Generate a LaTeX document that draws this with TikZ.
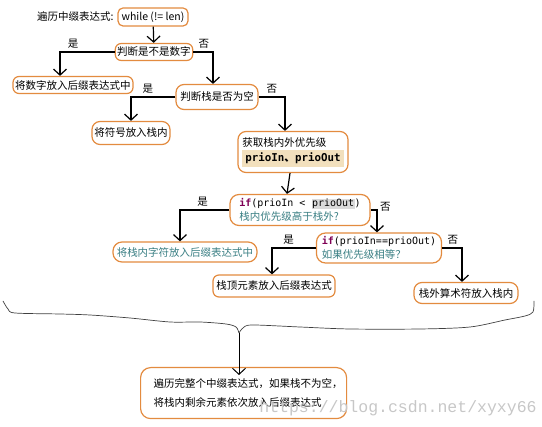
\documentclass[tikz,border=0pt]{standalone}
\usepackage{fontspec}
\setmainfont{Noto Sans CJK SC}
\setmonofont{DejaVu Sans Mono}
\newfontfamily\cjk{Noto Sans CJK SC}
\newfontfamily\wmfont{Liberation Mono}
\usepackage{xcolor}
\usetikzlibrary{arrows.meta,calc,positioning}
\definecolor{boxorange}{HTML}{E38B3F}
\definecolor{kwpurple}{HTML}{7F0055}
\definecolor{cmtteal}{HTML}{3A7F84}
\definecolor{hltan}{HTML}{F2E0BD}
\definecolor{hlgray}{HTML}{DADADA}
\newcommand{\kw}[1]{{\bfseries\color{kwpurple}#1}}
\newcommand{\codefont}{\fontsize{10}{15}\selectfont\ttfamily}

\begin{document}
\begin{tikzpicture}[x=1pt,y=-1pt,>={Straight Barb[length=6pt,width=13pt]},
  every node/.style={font=\fontsize{10.5}{15}\selectfont},
  box/.style={draw=boxorange,line width=1.2pt,rounded corners=6pt,fill=white,inner sep=2pt},
  flow/.style={->,line width=1.2pt},
  brace/.style={line width=0.7pt,black!75}]
\useasboundingbox (0,0) rectangle (542,427);

\node[anchor=east] (lbl) at (117,17) {遍历中缀表达式:};
\node[box,minimum width=70pt,minimum height=18pt,rounded corners=5pt] (w) at (153,17) {while (!= len)};
\node[box,minimum width=77pt,minimum height=17pt] (q1) at (154,52) {判断是不是数字};
\node[box,minimum width=120pt,minimum height=17pt] (n1) at (73,85) {将数字放入后缀表达式中};
\node[box,minimum width=82pt,minimum height=25pt,rounded corners=8pt] (q2) at (217,97) {判断栈是否为空};
\node[box,minimum width=78pt,minimum height=23pt,rounded corners=8pt] (n2) at (131,133) {将符号放入栈内};
\node[box,align=left,minimum width=110pt,minimum height=41pt,inner xsep=3pt,rounded corners=8pt] (g) at (293,152)
  {获取栈内外优先级\\\colorbox{hltan}{\fontsize{10.8}{15}\selectfont\ttfamily\bfseries prioIn{\cjk 、}prioOut}};
\node[box,align=left,minimum width=140pt,minimum height=31pt,rounded corners=9pt] (c1) at (300,210)
  {{\codefont\kw{if}(prioIn < {\setlength{\fboxsep}{0.5pt}\colorbox{hlgray}{prioOut}})}\\[-1pt]{\color{cmtteal}栈内优先级高于栈外?}};
\node[box,minimum width=144pt,minimum height=20pt,rounded corners=9pt,text=cmtteal] (n3) at (185,252) {将栈内字符放入后缀表达式中};
\node[box,align=left,minimum width=125pt,minimum height=30pt,rounded corners=9pt] (c2) at (379,248)
  {{\codefont\kw{if}(prioIn==prioOut)}\\[-1pt]{\color{cmtteal}如果优先级相等？}};
\node[box,minimum width=122pt,minimum height=22pt] (n4) at (274,286) {栈顶元素放入后缀表达式};
\node[box,minimum width=104pt,minimum height=21pt,rounded corners=8pt] (n5) at (466,293) {栈外算术符放入栈内};
\node[box,align=left,anchor=north west,text width=180pt,inner xsep=13pt,minimum height=51pt,
  rounded corners=10pt,font=\fontsize{10.5}{19}\selectfont] (fin) at (140,367)
  {遍历完整个中缀表达式，如果栈不为空，\\将栈内剩余元素依次放入后缀表达式};

% yes / no branches
\draw[flow] (w) -- (q1);
\draw[flow] (q1.west) -| ([xshift=-13pt]n1.north) node[pos=0.38,above] {是};
\draw[flow] (q1.east) -| ([xshift=-4pt]q2.north) node[pos=0.27,above] {否};
\draw[flow] (q2.west) -| (n2.north) node[pos=0.31,above] {是};
\draw[flow] (q2.east) -| ([xshift=-8pt]g.north) node[pos=0.25,above] {否};
\draw[flow] ([xshift=-3pt]g.south) -- ([xshift=-13pt]c1.north);
\draw[flow] (c1.west) -| ([xshift=-5pt]n3.north) node[pos=0.27,above] {是};
\draw[flow] (c1.east) -| ([xshift=-2pt]c2.north) node[pos=0.6,above right=-1pt] {否};
\draw[flow] (c2.west) -| ([xshift=-2pt]n4.north) node[pos=0.31,above] {是};
\draw[flow] (c2.east) -| ([xshift=-4pt]n5.north) node[pos=0.27,above] {否};

% brace
\coordinate (tip) at (239,333);
\draw[brace] plot[smooth,tension=0.5] coordinates {(3,301) (8,309) (15,313) (60,314) (90,315)
  (130,318) (170,322) (200,322) (226,324) (236,327) (239,333)};
\draw[brace] plot[smooth,tension=0.5] coordinates {(239,333) (243,328) (252,325) (300,327)
  (350,329) (420,329) (470,327) (505,320) (525,316) (533,312) (534,301)};
\draw[->,line width=1pt] (tip) -- ([yshift=-8pt]tip |- fin.north);

\node[font=\wmfont\fontsize{16.5}{18}\selectfont,text=black!22] (wm) at (398,408) {https://blog.csdn.net/xyxy66};
\end{tikzpicture}
\end{document}
